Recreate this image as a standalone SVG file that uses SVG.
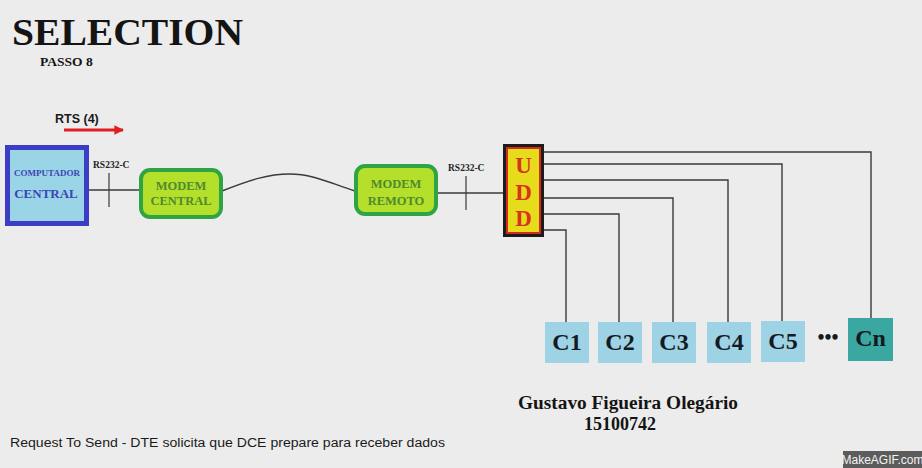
<svg xmlns="http://www.w3.org/2000/svg" width="922" height="468" viewBox="0 0 922 468">
  <defs>
    <style>
      .serif { font-family: "Liberation Serif", "Times New Roman", serif; font-weight: bold; }
      .sans { font-family: "Liberation Sans", Arial, sans-serif; }
      .wire { fill: none; stroke: #3a3a3a; stroke-width: 1.4; }
      .tick { stroke: #3a3a3a; stroke-width: 1.2; }
      .modem-box { fill: #b4e02c; stroke: #2fa444; stroke-width: 4; }
      .modem-txt { fill: #4f8a2c; font-size: 12.5px; text-anchor: middle; }
      .term { fill: #9dd3e4; }
      .term-txt { fill: #141a22; font-size: 24px; text-anchor: middle; }
      .rs { fill: #222; font-size: 9.5px; }
    </style>
    <marker id="redhead" viewBox="0 0 10 10" refX="9" refY="5" markerWidth="4" markerHeight="3.2" orient="auto" markerUnits="strokeWidth">
      <path d="M0,0 L10,5 L0,10 z" fill="#e01e1e"/>
    </marker>
  </defs>

  <rect width="922" height="468" fill="#ececec"/>

  <!-- heading -->
  <text class="serif" x="12" y="45" font-size="37" fill="#141414" textLength="231" lengthAdjust="spacingAndGlyphs">SELECTION</text>
  <text class="serif" x="40" y="65.5" font-size="13.5" fill="#141414">PASSO 8</text>

  <!-- RTS signal indicator -->
  <text class="sans" x="55" y="123" font-size="12.5" font-weight="bold" fill="#1a1a1a">RTS (4)</text>
  <line x1="64" y1="130" x2="123" y2="130" stroke="#e01e1e" stroke-width="3" marker-end="url(#redhead)"/>

  <!-- connectors -->
  <g id="connectors">
    <line class="wire" x1="89" y1="190" x2="140" y2="190"/>
    <line class="tick" x1="109" y1="173" x2="109" y2="207"/>
    <path class="wire" d="M222,191 C250,180 268,174 290,174 C312,174 330,183 355,191"/>
    <line class="wire" x1="437" y1="193" x2="504" y2="193"/>
    <line class="tick" x1="466" y1="176" x2="466" y2="210"/>
    <polyline class="wire" points="544,152 871,152 871,318"/>
    <polyline class="wire" points="544,164 782,164 782,321"/>
    <polyline class="wire" points="544,180 728,180 728,322"/>
    <polyline class="wire" points="544,198 673,198 673,322"/>
    <polyline class="wire" points="544,214 619,214 619,322"/>
    <polyline class="wire" points="544,230 566,230 566,322"/>
  </g>

  <text class="serif rs" x="93" y="168">RS232-C</text>
  <text class="serif rs" x="448" y="171">RS232-C</text>

  <g id="computador">
    <rect x="7.5" y="147.5" width="79" height="76" fill="#99d5e6" stroke="#3c3cc4" stroke-width="5"/>
    <text class="serif" x="47" y="176" font-size="9" fill="#3e44b4" text-anchor="middle">COMPUTADOR</text>
    <text class="serif" x="46" y="198" font-size="13" fill="#3e44b4" text-anchor="middle">CENTRAL</text>
  </g>

  <g id="modem-central">
    <rect class="modem-box" x="141" y="170" width="80" height="47" rx="9"/>
    <text class="serif modem-txt" x="181" y="190">MODEM</text>
    <text class="serif modem-txt" x="181" y="205">CENTRAL</text>
  </g>

  <g id="modem-remoto">
    <rect class="modem-box" x="356" y="166" width="80" height="48" rx="9"/>
    <text class="serif modem-txt" x="396" y="188">MODEM</text>
    <text class="serif modem-txt" x="396" y="205">REMOTO</text>
  </g>

  <g id="udd">
    <rect x="504.5" y="145.5" width="38" height="90" fill="#e6dc1c" stroke="#1c1c1c" stroke-width="3"/>
    <rect x="507" y="148" width="33" height="85" fill="none" stroke="#d22a1e" stroke-width="2"/>
    <text class="serif" x="523.5" y="173" font-size="23" fill="#d8341c" text-anchor="middle">U</text>
    <text class="serif" x="523.5" y="200" font-size="23" fill="#d8341c" text-anchor="middle">D</text>
    <text class="serif" x="523.5" y="226" font-size="23" fill="#d8341c" text-anchor="middle">D</text>
  </g>

  <g id="c1">
    <rect class="term" x="545" y="322" width="44" height="41"/>
    <text class="serif term-txt" x="567" y="350">C1</text>
  </g>
  <g id="c2">
    <rect class="term" x="598" y="322" width="44" height="41"/>
    <text class="serif term-txt" x="620" y="350">C2</text>
  </g>
  <g id="c3">
    <rect class="term" x="652" y="322" width="44" height="41"/>
    <text class="serif term-txt" x="674" y="350">C3</text>
  </g>
  <g id="c4">
    <rect class="term" x="707" y="322" width="44" height="41"/>
    <text class="serif term-txt" x="729" y="350">C4</text>
  </g>
  <g id="c5">
    <rect class="term" x="761" y="321" width="44" height="41"/>
    <text class="serif term-txt" x="783" y="349">C5</text>
  </g>
  <text class="serif" x="828" y="344" font-size="20" fill="#141a22" text-anchor="middle">•••</text>
  <g id="cn">
    <rect x="848" y="318" width="45" height="43" fill="#3ba7a1"/>
    <text class="serif term-txt" x="870.5" y="346">Cn</text>
  </g>

  <!-- credits and caption -->
  <text class="serif" x="518" y="409" font-size="18.5" fill="#141414" textLength="220" lengthAdjust="spacingAndGlyphs">Gustavo Figueira Olegário</text>
  <text class="serif" x="620" y="430" font-size="18" fill="#141414" text-anchor="middle">15100742</text>
  <text class="sans" x="10" y="447" font-size="12.5" fill="#1a1a1a" textLength="435" lengthAdjust="spacingAndGlyphs">Request To Send - DTE solicita que DCE prepare para receber dados</text>

  <rect x="843" y="451" width="79" height="17" fill="#5c5c5c"/>
  <text class="sans" x="882.5" y="464" font-size="12" fill="#f4f4f4" text-anchor="middle">MakeAGIF.com</text>
</svg>
